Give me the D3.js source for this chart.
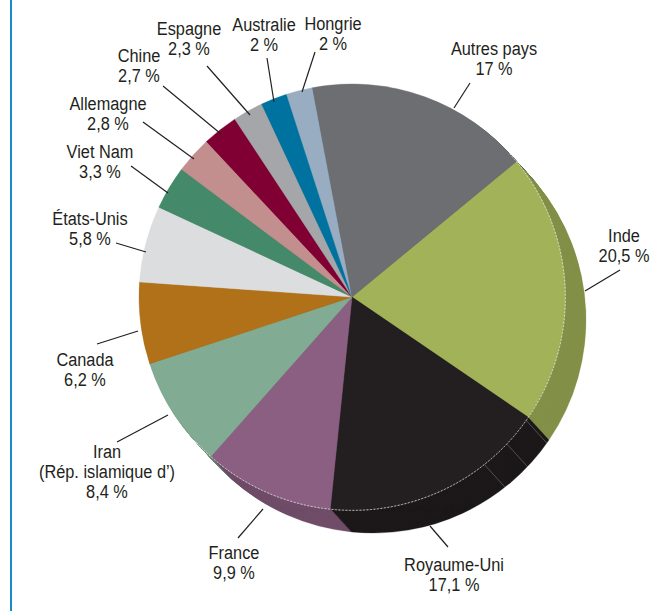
<!DOCTYPE html>
<html><head><meta charset="utf-8">
<script src="https://cdn.jsdelivr.net/npm/d3@7"></script>
<style>
html,body{margin:0;padding:0;background:#fff;}
svg{display:block;}
text{font-family:"Liberation Sans",Arial,sans-serif;font-size:19px;fill:#231f20;}
</style></head>
<body>
<script>
// ---- data ----
const countries = ["Inde","Royaume-Uni","France","Iran","Canada","États-Unis","Viet Nam","Allemagne","Chine","Espagne","Australie","Hongrie","Autres pays"];
const labelLines = [["Inde","20,5 %"],["Royaume-Uni","17,1 %"],["France","9,9 %"],["Iran","(Rép. islamique d’)","8,4 %"],["Canada","6,2 %"],["États-Unis","5,8 %"],["Viet Nam","3,3 %"],["Allemagne","2,8 %"],["Chine","2,7 %"],["Espagne","2,3 %"],["Australie","2 %"],["Hongrie","2 %"],["Autres pays","17 %"]];
const shares = [20.5,17.1,9.9,8.4,6.2,5.8,3.3,2.8,2.7,2.3,2,2,17];
const colors = ["#a2b259","#231f20","#8b5f82","#82ab94","#b07118","#dcdddf","#448a6a","#c38f8e","#800033","#a5a6a9","#0072a0","#98adc1","#6d6e71"];

// ---- layout ----
const W = 662, H = 611;
const cx = 352, cy = 297, R = 213;
const depth = {dx: 21, dy: 23};
// label anchor [x, first baseline] and leader line [x1,y1,x2,y2]
const labelLayout = [
  {x:624,y:242,lead:[620,270,585,291]},
  {x:454,y:571,lead:[448,547,430,526]},
  {x:234,y:559,lead:[238,538,263,509]},
  {x:107,y:458,lead:[117,442,168,415]},
  {x:85,y:366,lead:[97,344,138,331]},
  {x:90,y:225,lead:[116,243,146,252]},
  {x:100,y:158,lead:[131,166,168,193]},
  {x:108,y:110,lead:[143,122,194,159]},
  {x:139,y:62,lead:[163,86,221,134]},
  {x:189,y:35,lead:[207,66,250,115]},
  {x:264,y:31,lead:[267,58,274,102]},
  {x:333,y:30,lead:[315,52,302,92]},
  {x:494,y:55,lead:[470,83,454,108]}
];

const svg = d3.select("body").append("svg").attr("width",W).attr("height",H);

// left blue rule
svg.append("line").attr("x1",11).attr("x2",11).attr("y1",0).attr("y2",H)
  .attr("stroke","#1a8bc9").attr("stroke-width",2);

const start = 50.5*Math.PI/180;
const pie = d3.pie().sort(null).value(d=>d).startAngle(start).endAngle(start+2*Math.PI);
const arcs = pie(shares);
const arc = d3.arc().innerRadius(0).outerRadius(R);

const g = svg.append("g").attr("transform",`translate(${cx},${cy})`);

// extruded side: stacked layers
const steps = 32;
const side = g.append("g");
for (let i = steps; i >= 1; i--) {
  const t = i/steps;
  const layer = side.append("g").attr("transform",`translate(${depth.dx*t},${depth.dy*t})`);
  layer.selectAll("path").data(arcs).join("path")
    .attr("d",arc)
    .attr("fill",(d,j)=>d3.color(colors[j]).darker(0.6))
    .attr("stroke",(d,j)=>d3.color(colors[j]).darker(0.6))
    .attr("stroke-width",0.3);
}

// facet lines on the side
const facetAngles = d3.range(-9,2).map(k=>133.5 - 8.2*k).filter(a=>a>55 && a<146);
g.append("g").selectAll("line").data(facetAngles).join("line")
  .attr("x1",a=>R*Math.sin(a*Math.PI/180))
  .attr("y1",a=>-R*Math.cos(a*Math.PI/180))
  .attr("x2",a=>R*Math.sin(a*Math.PI/180)+depth.dx)
  .attr("y2",a=>-R*Math.cos(a*Math.PI/180)+depth.dy)
  .attr("stroke","rgba(255,255,255,0.35)").attr("stroke-width",0.7);

// top face
g.append("g").selectAll("path").data(arcs).join("path")
  .attr("d",arc)
  .attr("fill",(d,j)=>colors[j])
  .attr("stroke",(d,j)=>colors[j]).attr("stroke-width",0.4);

// light rim on top face edge
const rimStart = Math.atan2(depth.dy,depth.dx)*180/Math.PI;
const rim = d3.arc().innerRadius(R).outerRadius(R)
  .startAngle(rimStart*Math.PI/180).endAngle((rimStart+180)*Math.PI/180);
g.append("path").attr("d",rim()).attr("fill","none")
  .attr("stroke","rgba(255,255,255,0.55)").attr("stroke-width",0.8)
  .attr("stroke-dasharray","2,1.5");

// leaders
svg.append("g").selectAll("line").data(labelLayout).join("line")
  .attr("x1",d=>d.lead[0]).attr("y1",d=>d.lead[1])
  .attr("x2",d=>d.lead[2]).attr("y2",d=>d.lead[3])
  .attr("stroke","#231f20").attr("stroke-width",1.2);

// labels (horizontally condensed)
const lbl = svg.append("g").selectAll("text").data(labelLayout).join("text")
  .attr("text-anchor","middle")
  .attr("transform",d=>`translate(${d.x},${d.y}) scale(0.86,1)`);
lbl.each(function(d,i){
  d3.select(this).selectAll("tspan").data(labelLines[i]).join("tspan")
    .attr("x",0).attr("dy",(s,k)=>k===0?0:20).text(s=>s);
});
</script>
</body></html>
